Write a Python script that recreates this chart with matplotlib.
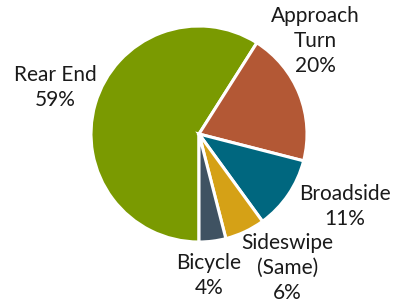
import numpy as np
import matplotlib
matplotlib.use('Agg')
import matplotlib.pyplot as plt

# Datos del gráfico
categorias = ["Rear End", "Approach\nTurn", "Broadside", "Sideswipe\n(Same)", "Bicycle"]
porcentajes = [59, 20, 11, 6, 4]
colores = ["#7A9A01", "#B35835", "#00677F", "#D5A116", "#3F5262"]

# Posición de cada etiqueta (en radios, relativo al centro)
pos_etiquetas = [(-1.33, 0.43), (1.08, 0.86), (1.35, -0.67), (0.82, -1.24), (0.09, -1.31)]

W, H = 394, 302
CX, CY, R = 199, 168, 108   # centro y radio en píxeles (desde abajo)

plt.rcParams['font.family'] = ['Lato', 'DejaVu Sans']

fig = plt.figure(figsize=(W / 100, H / 100), dpi=100)
ax = fig.add_axes([0, 0, 1, 1])

ax.pie(porcentajes, colors=colores, startangle=-90, counterclock=False,
       radius=1, wedgeprops=dict(edgecolor='white', linewidth=2.2))

for cat, p, (x, y) in zip(categorias, porcentajes, pos_etiquetas):
    ax.text(x, y, f"{cat}\n{p}%", ha='center', va='center',
            fontsize=15, color='#1a1a1a', linespacing=1.3)

ax.set_xlim(-CX / R, (W - CX) / R)
ax.set_ylim(-CY / R, (H - CY) / R)
ax.set_aspect('equal')
ax.axis('off')

plt.savefig("out.png", dpi=100)
